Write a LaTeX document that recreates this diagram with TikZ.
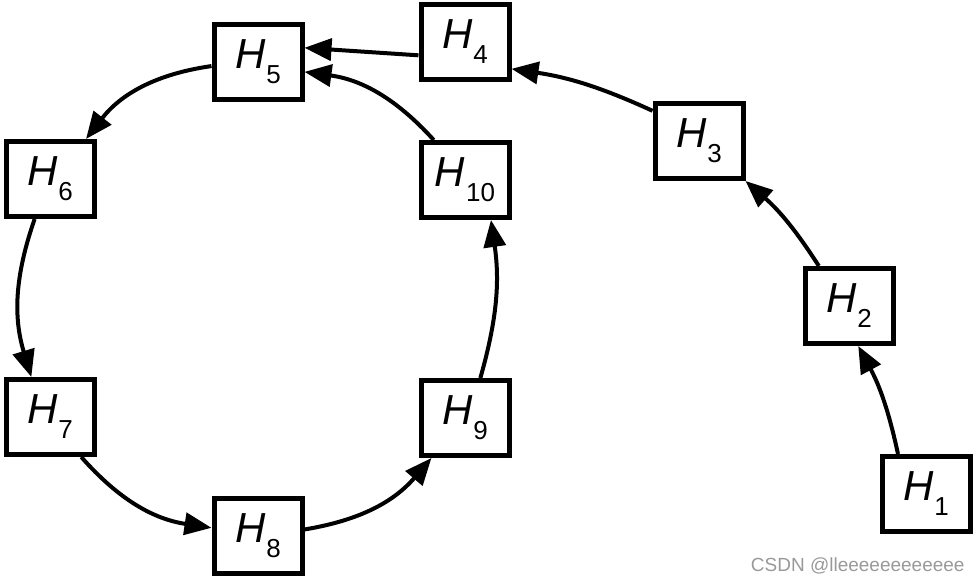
\documentclass[tikz,border=0pt]{standalone}
\usepackage{fontspec}
\setmainfont{Liberation Sans}
\usepackage{tikz}
\usetikzlibrary{arrows.meta}
\tikzset{hbox/.style={draw,line width=2.5pt,minimum width=44pt,minimum height=37.5pt,inner sep=0pt,font=\fontsize{21}{21}\selectfont}}
\tikzset{harr/.style={line width=2pt,-{Triangle[length=13.5pt,width=11pt]},bend right=#1}}
\newcommand{\hsub}[1]{\textit{H}\kern0.5pt\raisebox{-7.5pt}{\fontsize{13}{13}\selectfont #1}}

\begin{document}
\begin{tikzpicture}[x=0.5pt,y=0.5pt]
	\useasboundingbox (0,0) rectangle (979,583);
	\node[hbox] (h1) at (926,89) {\hsub{1}};
	\node[hbox] (h2) at (849,277) {\hsub{2}};
	\node[hbox] (h3) at (699,442) {\hsub{3}};
	\node[hbox] (h4) at (465,541) {\hsub{4}};
	\node[hbox] (h5) at (258,521) {\hsub{5}};
	\node[hbox] (h6) at (50,404) {\hsub{6}};
	\node[hbox] (h7) at (50,166) {\hsub{7}};
	\node[hbox] (h8) at (258,47) {\hsub{8}};
	\node[hbox] (h9) at (465,165) {\hsub{9}};
	\node[hbox] (h10) at (465,403) {\hsub{10}};
	\draw[harr=8] (h1.125) to (h2.-77);
	\draw[harr=8] (h2.127) to (h3.south east);
	\draw[harr=8] (h3.147) to (h4.-30);
	\draw[harr=0] (h4.196) to (h5.17);
	\draw[harr=20] (h10.128) to (h5.-12);
	\draw[harr=22] (h5.185) to (h6.48);
	\draw[harr=18] (h6.249) to (h7.115);
	\draw[harr=20] (h7.-52) to (h8.170);
	\draw[harr=20] (h8.8) to (h9.-130);
	\draw[harr=12] (h9.69) to (h10.-57);
	\node[anchor=east,text=black!40,font=\fontsize{9.5}{9.5}\selectfont,inner sep=0pt] (mark) at (965,17) {CSDN @lleeeeeeeeeeee};
\end{tikzpicture}
\end{document}
